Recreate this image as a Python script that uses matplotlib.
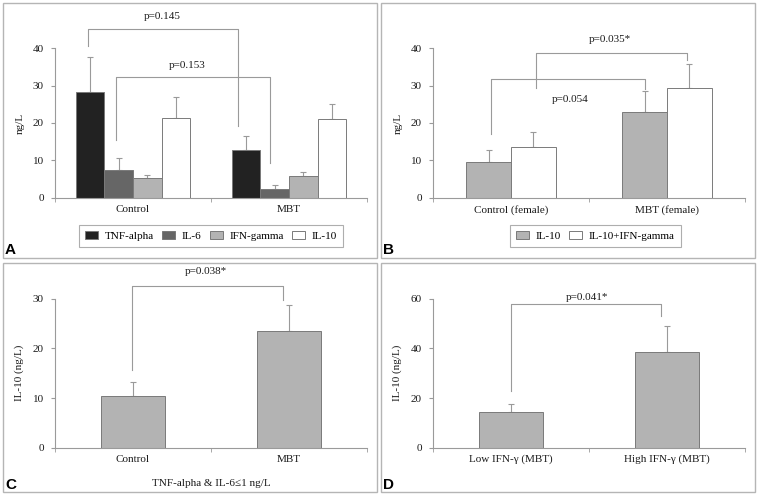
import matplotlib
matplotlib.use('Agg')
import matplotlib.pyplot as plt
from matplotlib.patches import Rectangle, Patch
import numpy as np

plt.rcParams['font.family'] = ['Liberation Serif', 'DejaVu Serif']
plt.rcParams['font.size'] = 8

# panel A data
a_groups = ['Control', 'MBT']
a_series = ['TNF-alpha', 'IL-6', 'IFN-gamma', 'IL-10']
a_mean = [[28.2, 12.7], [7.5, 2.3], [5.2, 5.9], [21.3, 21.1]]
a_err_top = [[37.8, 16.5], [10.6, 3.4], [6.1, 6.9], [26.9, 25.0]]
a_colors = ['#222222', '#666666', '#b3b3b3', '#ffffff']

# panel B data
b_groups = ['Control (female)', 'MBT (female)']
b_series = ['IL-10', 'IL-10+IFN-gamma']
b_mean = [[9.5, 22.9], [13.5, 29.3]]
b_err_top = [[12.7, 28.6], [17.5, 35.8]]
b_colors = ['#b3b3b3', '#ffffff']

# panel C data
c_groups = ['Control', 'MBT']
c_mean = [10.5, 23.4]
c_err_top = [13.2, 28.7]

# panel D data
d_groups = ['Low IFN-\u03b3 (MBT)', 'High IFN-\u03b3 (MBT)']
d_mean = [14.2, 38.4]
d_err_top = [17.4, 49.0]

# brackets: x_left, y_left_bottom, y_top, x_right, y_right_bottom, label, label_x, label_y
a_brackets = [(-0.288, 40.7, 45.2, 0.673, 19.2, 'p=0.145', 0.19, 48.5),
              (-0.111, 15.4, 32.3, 0.878, 9.2, 'p=0.153', 0.344, 35.3)]
b_brackets = [(-0.126, 17.0, 31.7, 0.857, 29.1, 'p=0.054', 0.376, 26.4),
              (0.158, 29.3, 38.8, 1.130, 36.9, 'p=0.035*', 0.633, 42.4)]
c_brackets = [(-0.008, 15.6, 32.6, 0.964, 29.7, 'p=0.038*', 0.466, 35.4)]
d_brackets = [(-0.002, 22.8, 57.7, 0.960, 53.0, 'p=0.041*', 0.487, 60.5)]

W, H = 757, 498
fig = plt.figure(figsize=(W / 100, H / 100), dpi=100)

GRAY = '#9a9a9a'
EDGE = '#7a7a7a'
TXT = '#1a1a1a'


def px_axes(x0, ytop, x1, ybot):
    return fig.add_axes([x0 / W, 1 - ybot / H, (x1 - x0) / W, (ybot - ytop) / H])


def style(ax, ymax, step):
    ax.set_xlim(-0.5, 1.5)
    ax.set_ylim(0, ymax)
    ax.set_yticks(np.arange(0, ymax + 1, step))
    for s in ['top', 'right']:
        ax.spines[s].set_visible(False)
    for s in ['left', 'bottom']:
        ax.spines[s].set_color(GRAY)
        ax.spines[s].set_linewidth(0.8)
    ax.set_xticks([0, 1])
    ax.set_xticks([-0.5, 0.5, 1.5], minor=True)
    ax.tick_params(axis='x', which='major', length=0, pad=5, labelcolor=TXT, labelsize=8)
    ax.tick_params(axis='x', which='minor', length=3, color=GRAY, direction='out')
    ax.tick_params(axis='y', length=3, color=GRAY, width=0.8, pad=5, labelcolor=TXT, labelsize=8)
    ax.patch.set_alpha(0)


def bars(ax, means, tops, colors, width):
    n = len(means)
    x = np.arange(2)
    for i in range(n):
        off = (i - (n - 1) / 2) * width
        m = np.array(means[i])
        t = np.array(tops[i])
        ax.errorbar(x + off, m, yerr=[np.zeros(2), t - m], fmt='none', ecolor=GRAY,
                    elinewidth=0.8, capsize=2, capthick=0.8, zorder=1)
        ax.bar(x + off, m, width, color=colors[i], edgecolor=EDGE, linewidth=0.7, zorder=2)


def brackets(ax, items):
    for xl, yl, yt, xr, yr, lab, lx, ly in items:
        ax.plot([xl, xl, xr, xr], [yl, yt, yt, yr], color=GRAY, lw=0.8, clip_on=False)
        ax.text(lx, ly, lab, ha='center', va='center', fontsize=8, color=TXT, clip_on=False)


def legend(ax, labels, colors, xc):
    h = [Patch(facecolor=c, edgecolor=EDGE, linewidth=0.7) for c in colors]
    leg = ax.legend(h, labels, loc='center', bbox_to_anchor=(xc, -0.256), ncol=len(labels),
                    fancybox=False, edgecolor='#9a9a9a', fontsize=8, handlelength=1.2,
                    handleheight=0.75, handletextpad=0.6, columnspacing=0.7,
                    borderpad=0.55, borderaxespad=0)
    leg.get_frame().set_linewidth(0.8)


# panel frames
for x0, y0, x1, y1 in [(3, 3, 377, 258), (381, 3, 755, 258), (3, 263, 377, 492), (381, 263, 755, 492)]:
    fig.patches.append(Rectangle((x0 / W, 1 - y1 / H), (x1 - x0) / W, (y1 - y0) / H,
                                 transform=fig.transFigure, fill=False,
                                 edgecolor='#b5b5b5', linewidth=1.0))

# A
axA = px_axes(55, 48.3, 367, 197.7)
style(axA, 40, 10)
bars(axA, a_mean, a_err_top, a_colors, 0.1835)
axA.set_xticklabels(a_groups)
axA.set_ylabel('ng/L', color=TXT, labelpad=6)
brackets(axA, a_brackets)
legend(axA, a_series, a_colors, 0.5)

# B
axB = px_axes(433, 48.3, 745, 197.7)
style(axB, 40, 10)
bars(axB, b_mean, b_err_top, b_colors, 0.287)
axB.set_xticklabels(b_groups)
axB.set_ylabel('ng/L', color=TXT, labelpad=6)
brackets(axB, b_brackets)
legend(axB, b_series, b_colors, 0.52)

# C
axC = px_axes(55, 298.7, 367, 447.7)
style(axC, 30, 10)
bars(axC, [c_mean], [c_err_top], ['#b3b3b3'], 0.407)
axC.set_xticklabels(c_groups)
axC.set_ylabel('IL-10 (ng/L)', color=TXT, labelpad=6)
axC.set_xlabel('TNF-alpha & IL-6\u22641 ng/L', color=TXT, labelpad=11)
brackets(axC, c_brackets)

# D
axD = px_axes(433, 298.7, 745, 447.7)
style(axD, 60, 20)
bars(axD, [d_mean], [d_err_top], ['#b3b3b3'], 0.407)
axD.set_xticklabels(d_groups)
axD.set_ylabel('IL-10 (ng/L)', color=TXT, labelpad=6)
brackets(axD, d_brackets)

# panel letters
for lab, x, y in [('A', 5, 254), ('B', 383, 254), ('C', 5, 489), ('D', 383, 489)]:
    fig.text(x / W, 1 - y / H, lab, family='Liberation Sans', weight='bold',
             fontsize=11, va='baseline', ha='left', color='black')

fig.savefig('out.png', dpi=100)
